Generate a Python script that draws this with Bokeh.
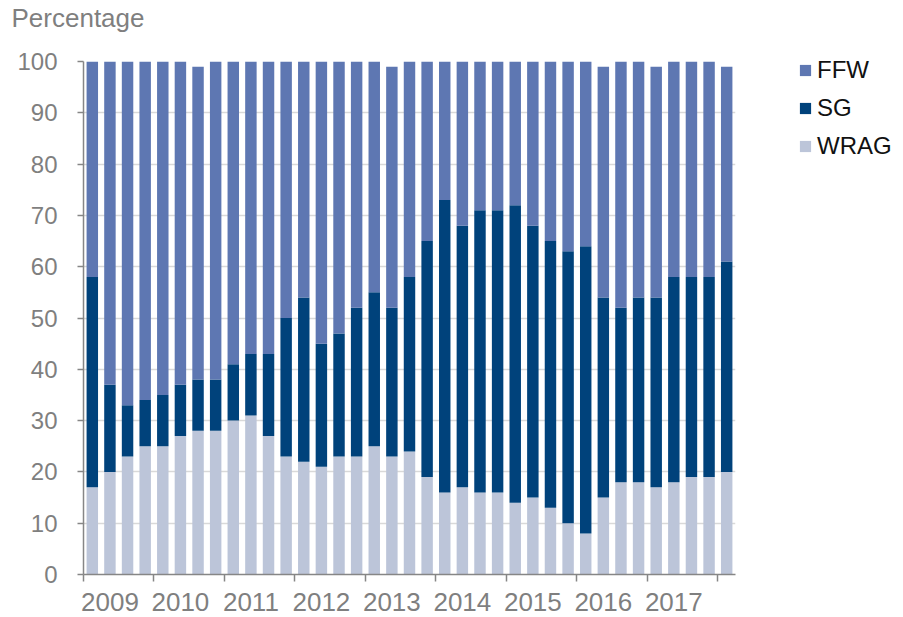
from bokeh.plotting import figure
from bokeh.models import (ColumnDataSource, FixedTicker, Legend, LegendItem, Range1d)
from bokeh.embed import file_html
from bokeh.resources import INLINE

# ---- data ----
quarters = [f"{y} Q{q}" for y in range(2009, 2018) for q in range(1, 5)] + ["2018 Q1"]
wrag = [17, 20, 23, 25, 25, 27, 28, 28, 30, 31, 27, 23, 22, 21, 23, 23, 25, 23, 24,
        19, 16, 17, 16, 16, 14, 15, 13, 10, 8, 15, 18, 18, 17, 18, 19, 19, 20]
sg = [41, 17, 10, 9, 10, 10, 10, 10, 11, 12, 16, 27, 32, 24, 24, 29, 30, 29, 34,
      46, 57, 51, 55, 55, 58, 53, 52, 53, 56, 39, 34, 36, 37, 40, 39, 39, 41]
ffw = [42, 63, 67, 66, 65, 63, 61, 62, 59, 57, 57, 50, 46, 55, 53, 48, 45, 47, 42,
       35, 27, 32, 29, 29, 28, 32, 35, 37, 36, 45, 48, 46, 45, 42, 42, 42, 38]
years = ["2009", "2010", "2011", "2012", "2013", "2014", "2015", "2016", "2017"]
y_ticks = list(range(0, 101, 10))

series = ["WRAG", "SG", "FFW"]
colors = ["#bcc5d9", "#00427b", "#5e77b2"]

x = list(range(len(quarters)))
source = ColumnDataSource(dict(x=x, quarter=quarters, WRAG=wrag, SG=sg, FFW=ffw))

FONT = "Liberation Sans"
GRAY = "#7f7f7f"

p = figure(output_backend="svg", toolbar_location=None,
           frame_width=652, frame_height=513,
           min_border_left=83, min_border_right=168,
           min_border_top=60, min_border_bottom=44,
           x_range=Range1d(-0.5, 36.5), y_range=Range1d(0, 100),
           title="Percentage\n ")
p.outline_line_color = None
p.background_fill_color = "white"

p.title.text_font = FONT
p.title.text_font_size = "26px"
p.title.text_font_style = "normal"
p.title.text_color = GRAY
p.title.align = "left"
p.title.offset = -72
p.title.standoff = 0
p.title.text_line_height = 0.95

renderers = p.vbar_stack(series, x="x", width=0.65, color=colors, source=source,
                         line_color=None)

# grid
p.xgrid.grid_line_color = None
p.ygrid.grid_line_color = "#d9d9d9"
p.ygrid.grid_line_width = 1.5
p.ygrid.ticker = FixedTicker(ticks=y_ticks)

# x axis: year labels centred under each year, tick marks between years
xt = FixedTicker(ticks=[4 * i + 1 for i in range(len(years))],
                 minor_ticks=[4 * i - 0.5 for i in range(len(years) + 1)])
p.xaxis.ticker = xt
p.xaxis.major_label_overrides = {4 * i + 1: yr for i, yr in enumerate(years)}
p.xaxis.major_tick_out = 0
p.xaxis.major_tick_in = 0
p.xaxis.minor_tick_out = 7
p.xaxis.minor_tick_in = 0
p.xaxis.minor_tick_line_color = "#868686"
p.xaxis.minor_tick_line_width = 1.5
p.xaxis.major_label_standoff = 11
p.xaxis.major_label_text_font_size = "26px"

p.yaxis.ticker = FixedTicker(ticks=y_ticks)
p.yaxis.major_tick_out = 6
p.yaxis.major_tick_in = 0
p.yaxis.minor_tick_line_color = None
p.yaxis.major_label_standoff = 20
p.yaxis.major_label_text_font_size = "24px"

for ax in (p.xaxis, p.yaxis):
    ax.axis_line_color = "#868686"
    ax.axis_line_width = 1.5
    ax.major_tick_line_color = "#868686"
    ax.major_tick_line_width = 1.5
    ax.major_label_text_font = FONT
    ax.major_label_text_color = GRAY

# legend (FFW, SG, WRAG top to bottom)
items = [LegendItem(label=s, renderers=[r]) for s, r in zip(series, renderers)][::-1]
legend = Legend(items=items, location=(63, 414), orientation="vertical",
                padding=0, margin=0, spacing=10,
                glyph_width=14, glyph_height=14, label_height=28,
                label_standoff=5, border_line_color=None,
                background_fill_alpha=0,
                label_text_font=FONT, label_text_font_size="24px",
                label_text_color="#111111")
p.add_layout(legend, "right")

open("out.html", "w").write(file_html(p, INLINE))
